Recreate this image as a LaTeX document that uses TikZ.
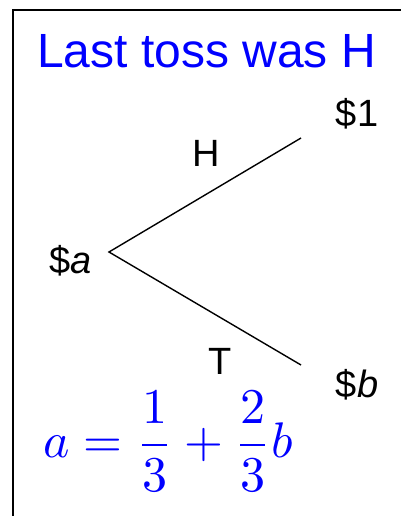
\documentclass[tikz,border=0pt]{standalone}
\usepackage{fontspec}
\setmainfont{Liberation Sans}
\begin{document}
\begin{tikzpicture}[x=1pt,y=1pt,
  lbl/.style={anchor=base,inner sep=0pt,font=\fontsize{38}{45}\selectfont},
  title/.style={anchor=base,inner sep=0pt,text=blue,font=\fontsize{48}{57}\selectfont},
  branch/.style={line width=1.4pt},
  eqn/.style={anchor=base west,inner sep=0pt,text=blue,scale=5}]
\useasboundingbox (0,0) rectangle (401,-516);
\draw[line width=2pt] (13,-516) -- (13,-10) -- (401,-10);
\node[title] (t) at (206.5,-68) {Last toss was H};
\coordinate (root) at (109,-252);
\coordinate (up) at (301,-138);
\coordinate (dn) at (301,-365);
\draw[branch] (up) -- (root) -- (dn);
\node[lbl] (one) at (357,-126) {\$1};
\node[lbl] (h) at (206.5,-166) {H};
\node[lbl] (a) at (70.5,-273) {\$\textit{a}};
\node[lbl] (tt) at (220.5,-374) {T};
\node[lbl] (b) at (357,-397) {\$\textit{b}};
\node[eqn] (eq) at (42,-457) {$\displaystyle a=\frac{1}{3}+\frac{2}{3}b$};
\end{tikzpicture}
\end{document}
